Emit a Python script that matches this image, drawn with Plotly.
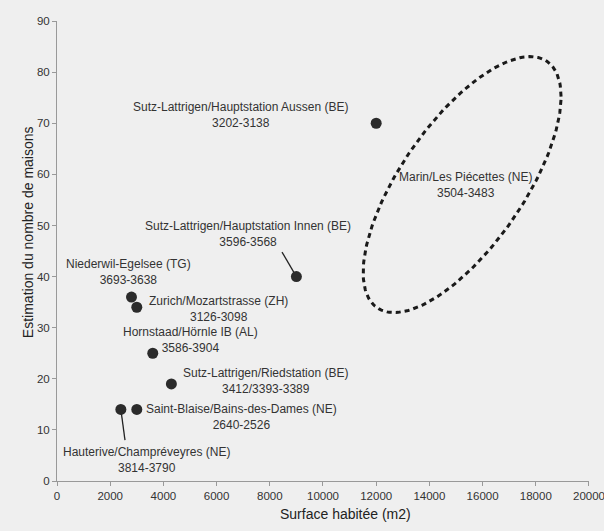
import numpy as np
import plotly.graph_objects as go

# ---- data ----
sites = [
    "Sutz-Lattrigen/Hauptstation Aussen (BE)",
    "Sutz-Lattrigen/Hauptstation Innen (BE)",
    "Niederwil-Egelsee (TG)",
    "Zurich/Mozartstrasse (ZH)",
    "Hornstaad/Hörnle IB (AL)",
    "Sutz-Lattrigen/Riedstation (BE)",
    "Saint-Blaise/Bains-des-Dames (NE)",
    "Hauterive/Champréveyres (NE)",
]
dates = ["3202-3138", "3596-3568", "3693-3638", "3126-3098", "3586-3904",
         "3412/3393-3389", "2640-2526", "3814-3790"]
surface = [12000, 9000, 2800, 3000, 3600, 4300, 3000, 2400]
maisons = [70, 40, 36, 34, 25, 19, 14, 14]

# label centres (data units)
label_x = [6880, 7180, 2670, 6090, 5000, 7820, 6936, 3383]
label_y = [71.7, 48.3, 40.9, 33.65, 27.5, 19.5, 12.5, 4.1]

# leader lines: index of site -> end point (data units)
leaders = {1: (8459, 44.8), 7: (2556, 8.0)}

# Marin/Les Piécettes ellipse (no point)
marin_text = "Marin/Les Piécettes (NE)<br>3504-3483"
marin_label = (15376, 58.0)
ell_cx, ell_cy = 15230, 58.0
ell_w, ell_k, ell_m = 3720, 17.2, 18.2

x_ticks = list(range(0, 20001, 2000))
y_ticks = list(range(0, 91, 10))

BG = "#efefef"
TXT = "#333333"
FONT = "Liberation Sans, Arial, sans-serif"

fig = go.Figure()

t = np.linspace(0, 2 * np.pi, 200)
ex = ell_cx + ell_w * np.cos(t)
ey = ell_cy + ell_k * np.cos(t) + ell_m * np.sin(t)
fig.add_trace(go.Scatter(x=ex, y=ey, mode="lines",
                         line=dict(color="#1a1a1a", width=3, dash="5px,4px"),
                         hoverinfo="skip", showlegend=False))

fig.add_trace(go.Scatter(x=surface, y=maisons, mode="markers",
                         marker=dict(size=11, color="#2b2b2b"),
                         showlegend=False))

shapes = []
for i, (lx, ly) in leaders.items():
    shapes.append(dict(type="line", xref="x", yref="y",
                       x0=surface[i], y0=maisons[i], x1=lx, y1=ly,
                       line=dict(color="#222222", width=1.3), layer="below"))

annotations = []
for s, d, lx, ly in zip(sites, dates, label_x, label_y):
    annotations.append(dict(x=lx, y=ly, xref="x", yref="y", text=f"{s}<br>{d}",
                            showarrow=False, font=dict(size=12, color=TXT, family=FONT),
                            align="center"))
annotations.append(dict(x=marin_label[0], y=marin_label[1], xref="x", yref="y",
                        text=marin_text, showarrow=False,
                        font=dict(size=12, color=TXT, family=FONT), align="center"))
# axis titles (paper coords relative to plot area)
annotations.append(dict(x=0.543, y=-0.0935, xref="paper", yref="paper",
                        text="Surface habitée (m2)", showarrow=False,
                        font=dict(size=14, color="#222222", family=FONT)))
annotations.append(dict(x=-0.0733, y=0.541, xref="paper", yref="paper",
                        text="Estimation du nombre de maisons", showarrow=False,
                        textangle=-90,
                        font=dict(size=14, color="#222222", family=FONT)))

axis_common = dict(showgrid=False, zeroline=False, showline=True, linecolor="#999999",
                   linewidth=1, ticks="outside", ticklen=4, tickcolor="#999999",
                   ticklabeloverflow="allow", automargin=False,
                   tickfont=dict(size=11.5, color=TXT, family=FONT))

fig.update_layout(
    width=604, height=531,
    margin=dict(l=57, r=15, t=21, b=50),
    paper_bgcolor=BG, plot_bgcolor=BG,
    xaxis=dict(range=[0, 20000.5], tickvals=x_ticks, ticktext=[str(v) for v in x_ticks],
               **axis_common),
    yaxis=dict(range=[0, 90.01], tickvals=y_ticks, ticktext=[str(v) for v in y_ticks],
               **axis_common),
    shapes=shapes, annotations=annotations, showlegend=False,
)

fig.write_html("out.html")
